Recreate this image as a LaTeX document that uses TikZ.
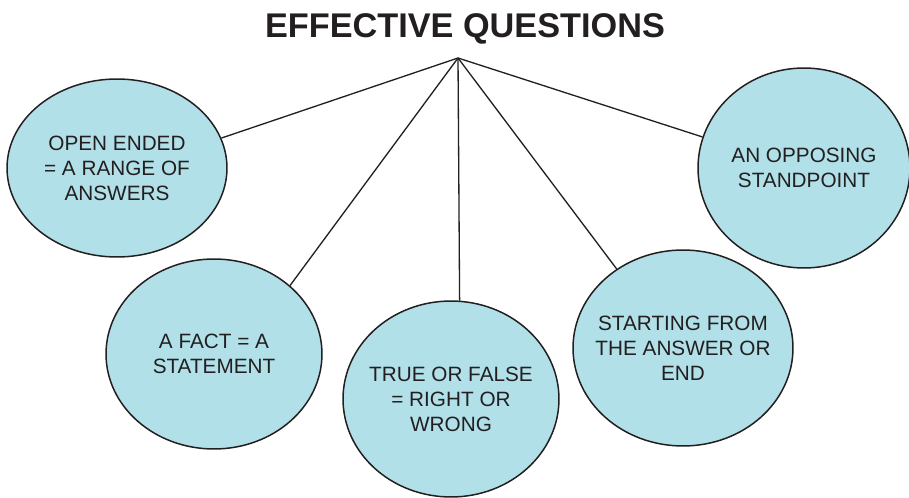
\documentclass[tikz,border=0pt]{standalone}
\usepackage{fontspec}
\setmainfont{Liberation Sans}
\usepackage{tikz}
\usetikzlibrary{shapes}
\definecolor{celeste}{RGB}{177,224,232}
\definecolor{tinta}{RGB}{35,31,32}
\tikzstyle{edge}  =[draw=tinta, line width=0.75pt]
\tikzstyle{bubble}=[ellipse, draw=tinta, fill=celeste,
                    line width=0.85pt, inner sep=0pt]
\tikzstyle{texto} =[align=center, text=tinta, inner sep=0pt,
                    font=\fontsize{11.8}{14.3}\selectfont]

\begin{document}
\begin{tikzpicture}[x=0.02cm,y=-0.02cm]
    \useasboundingbox (0,0) rectangle (909,497);

    \draw (465,29) node (titulo) [text=tinta, font=\fontsize{19.5}{22}\bfseries\selectfont] {EFFECTIVE QUESTIONS};
    \coordinate (top) at (458,58);

    \draw (117,168) node (open) [bubble, minimum width=4.4cm, minimum height=3.56cm,
        label={[texto]center:{OPEN ENDED\\= A RANGE OF\\ANSWERS}}] {};
    \draw (214,354) node (fact) [bubble, minimum width=4.32cm, minimum height=3.8cm,
        label={[texto]center:{A FACT = A\\STATEMENT}}] {};
    \draw (451,399) node (tf) [bubble, minimum width=4.32cm, minimum height=3.92cm,
        label={[texto]center:{TRUE OR FALSE\\= RIGHT OR\\WRONG}}] {};
    \draw (683,348) node (answer) [bubble, minimum width=4.4cm, minimum height=3.92cm,
        label={[texto]center:{STARTING FROM\\THE ANSWER OR\\END}}] {};
    \draw (804,168) node (opp) [bubble, minimum width=4.24cm, minimum height=4cm,
        label={[texto]center:{AN OPPOSING\\STANDPOINT}}] {};

    \foreach \j/\a in {open/16,fact/42,tf/85,answer/130,opp/163}
        \draw [edge] (top) -- (\j.\a);

\end{tikzpicture}
\end{document}
